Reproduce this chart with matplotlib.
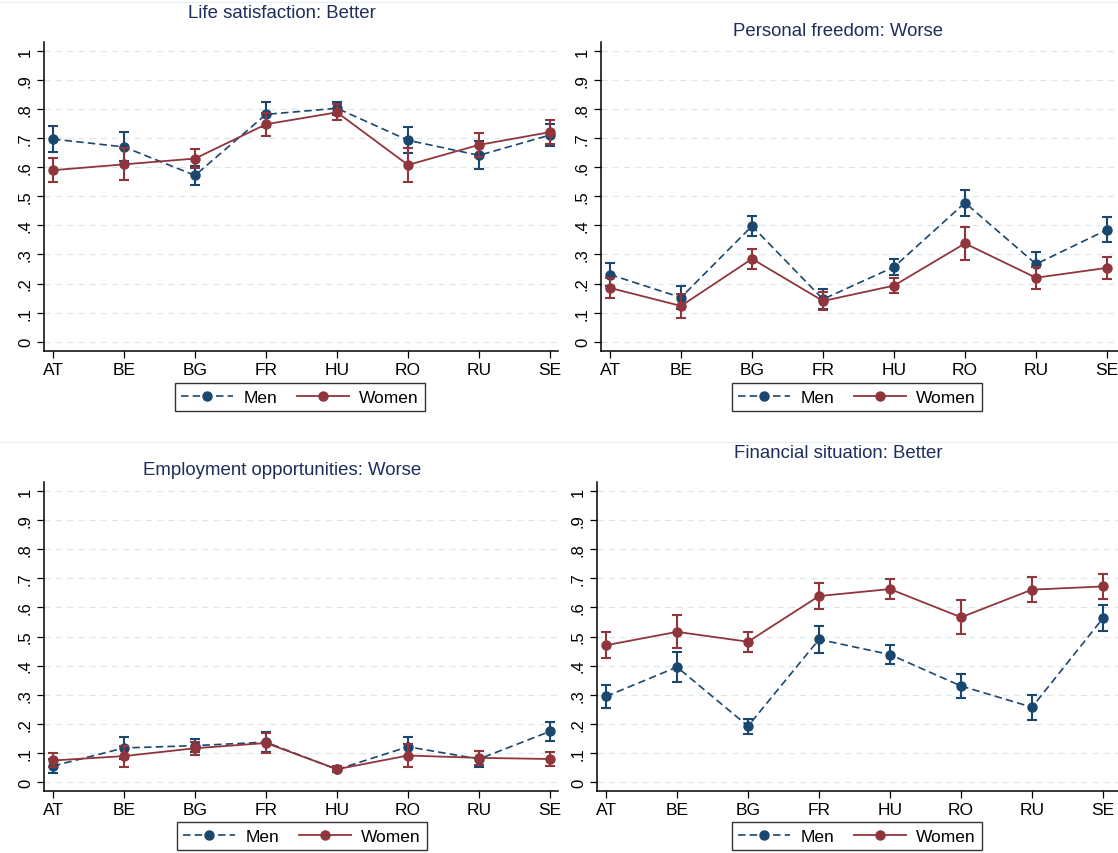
import matplotlib
matplotlib.use("Agg")
import matplotlib.pyplot as plt
from matplotlib.lines import Line2D

plt.rcParams["font.family"] = ["Liberation Sans", "DejaVu Sans"]

countries = ["AT", "BE", "BG", "FR", "HU", "RO", "RU", "SE"]

# Life satisfaction: Better
life_men = [0.697, 0.670, 0.572, 0.782, 0.803, 0.693, 0.641, 0.711]
life_men_err = [0.044, 0.050, 0.032, 0.044, 0.022, 0.044, 0.048, 0.038]
life_women = [0.590, 0.610, 0.630, 0.748, 0.789, 0.608, 0.677, 0.721]
life_women_err = [0.042, 0.055, 0.034, 0.040, 0.027, 0.059, 0.041, 0.040]

# Personal freedom: Worse
free_men = [0.231, 0.152, 0.398, 0.146, 0.257, 0.478, 0.267, 0.385]
free_men_err = [0.041, 0.040, 0.033, 0.035, 0.028, 0.045, 0.042, 0.043]
free_women = [0.185, 0.123, 0.285, 0.140, 0.193, 0.338, 0.220, 0.254]
free_women_err = [0.035, 0.040, 0.035, 0.032, 0.027, 0.058, 0.038, 0.039]

# Employment opportunities: Worse
emp_men = [0.055, 0.117, 0.125, 0.137, 0.043, 0.121, 0.079, 0.174]
emp_men_err = [0.023, 0.037, 0.022, 0.035, 0.010, 0.032, 0.028, 0.032]
emp_women = [0.074, 0.089, 0.116, 0.134, 0.044, 0.091, 0.083, 0.079]
emp_women_err = [0.024, 0.036, 0.022, 0.035, 0.010, 0.040, 0.025, 0.023]

# Financial situation: Better
fin_men = [0.294, 0.395, 0.192, 0.490, 0.438, 0.330, 0.257, 0.563]
fin_men_err = [0.040, 0.052, 0.026, 0.047, 0.034, 0.041, 0.043, 0.045]
fin_women = [0.470, 0.516, 0.482, 0.639, 0.663, 0.566, 0.661, 0.672]
fin_women_err = [0.044, 0.057, 0.035, 0.044, 0.034, 0.059, 0.044, 0.044]

titles = ["Life satisfaction: Better", "Personal freedom: Worse",
          "Employment opportunities: Worse", "Financial situation: Better"]

MEN_C = "#1a476f"
WOMEN_C = "#90353b"
TITLE_C = "#1e2d5a"
GRID_C = "#dce8ec"
MEN_DASH = (0, (4.5, 2.5))

W, H = 1118, 854
fig = plt.figure(figsize=(W / 100, H / 100), dpi=100)

# pixel layout: (left, right, top, bottom, x of AT, y of 0, y of 1, title x, title y, legend x, legend y)
panels = [
    (44, 558, 43, 352, 53, 342.7, 52, 282, 14, 300, 398),
    (601, 1118, 43, 352, 610, 342.7, 52, 838, 31, 857, 398),
    (44, 558, 483, 792, 53, 783, 492, 282, 471, 302, 837),
    (597, 1118, 483, 792, 606, 783, 492, 838, 454, 857, 837),
]
series = [
    (life_men, life_men_err, life_women, life_women_err),
    (free_men, free_men_err, free_women, free_women_err),
    (emp_men, emp_men_err, emp_women, emp_women_err),
    (fin_men, fin_men_err, fin_women, fin_women_err),
]
step = 71.0

for (l, r, t, b, x0, y0, y1, tx, ty, lx, ly), (m, me, w, we), title in zip(panels, series, titles):
    ax = fig.add_axes([l / W, 1 - b / H, (r - l) / W, (b - t) / H])
    ppu = y0 - y1
    ax.set_xlim(-(x0 - l) / step, (r - x0) / step)
    ax.set_ylim(-(b - y0) / ppu, 1 + (y1 - t) / ppu)
    xs = list(range(len(countries)))

    ax.errorbar(xs, m, yerr=me, color=MEN_C, ls=MEN_DASH, lw=1.2,
                marker="o", ms=6.5, capsize=3.5, elinewidth=1.5, capthick=1.5,
                label="Men", zorder=3)
    ax.errorbar(xs, w, yerr=we, color=WOMEN_C, ls="-", lw=1.3,
                marker="o", ms=6.5, capsize=3.5, elinewidth=1.5, capthick=1.5,
                label="Women", zorder=4)

    yt = [i / 10 for i in range(11)]
    ax.set_yticks(yt)
    ax.set_yticklabels(["0"] + ["." + str(i) for i in range(1, 10)] + ["1"],
                       rotation=90, va="center", fontsize=12)
    ax.set_xticks(xs)
    ax.set_xticklabels(countries, fontsize=12.5)
    ax.tick_params(axis="both", direction="out", length=5, width=0.9, color="black")
    ax.tick_params(axis="y", pad=3)
    ax.tick_params(axis="x", pad=3)
    ax.grid(axis="y", color=GRID_C, ls=(0, (5, 4)), lw=0.9)
    ax.set_axisbelow(True)
    for s in ("top", "right"):
        ax.spines[s].set_visible(False)
    for s in ("left", "bottom"):
        ax.spines[s].set_linewidth(1.1)

    fig.text(tx / W, 1 - ty / H, title, ha="center", va="center",
             fontsize=13.4, color=TITLE_C)

    handles = [
        Line2D([], [], color=MEN_C, ls=MEN_DASH, lw=1.2, marker="o", ms=6.5),
        Line2D([], [], color=WOMEN_C, ls="-", lw=1.3, marker="o", ms=6.5),
    ]
    leg = fig.legend(handles, ["Men", "Women"], loc="center",
                     bbox_to_anchor=(lx / W, 1 - ly / H), ncol=2, numpoints=1,
                     fontsize=12.5, frameon=True, fancybox=False, edgecolor="black",
                     handlelength=3.0, columnspacing=1.1, borderpad=0.35,
                     handletextpad=0.6, borderaxespad=0)
    leg.get_frame().set_linewidth(1.0)

# faint graph-region borders at top of each row
for yy in (3, 443):
    fig.add_artist(Line2D([0, 1], [1 - yy / H, 1 - yy / H], color="#e6eef0", lw=0.8))

fig.savefig("out.png", dpi=100, facecolor="white")
